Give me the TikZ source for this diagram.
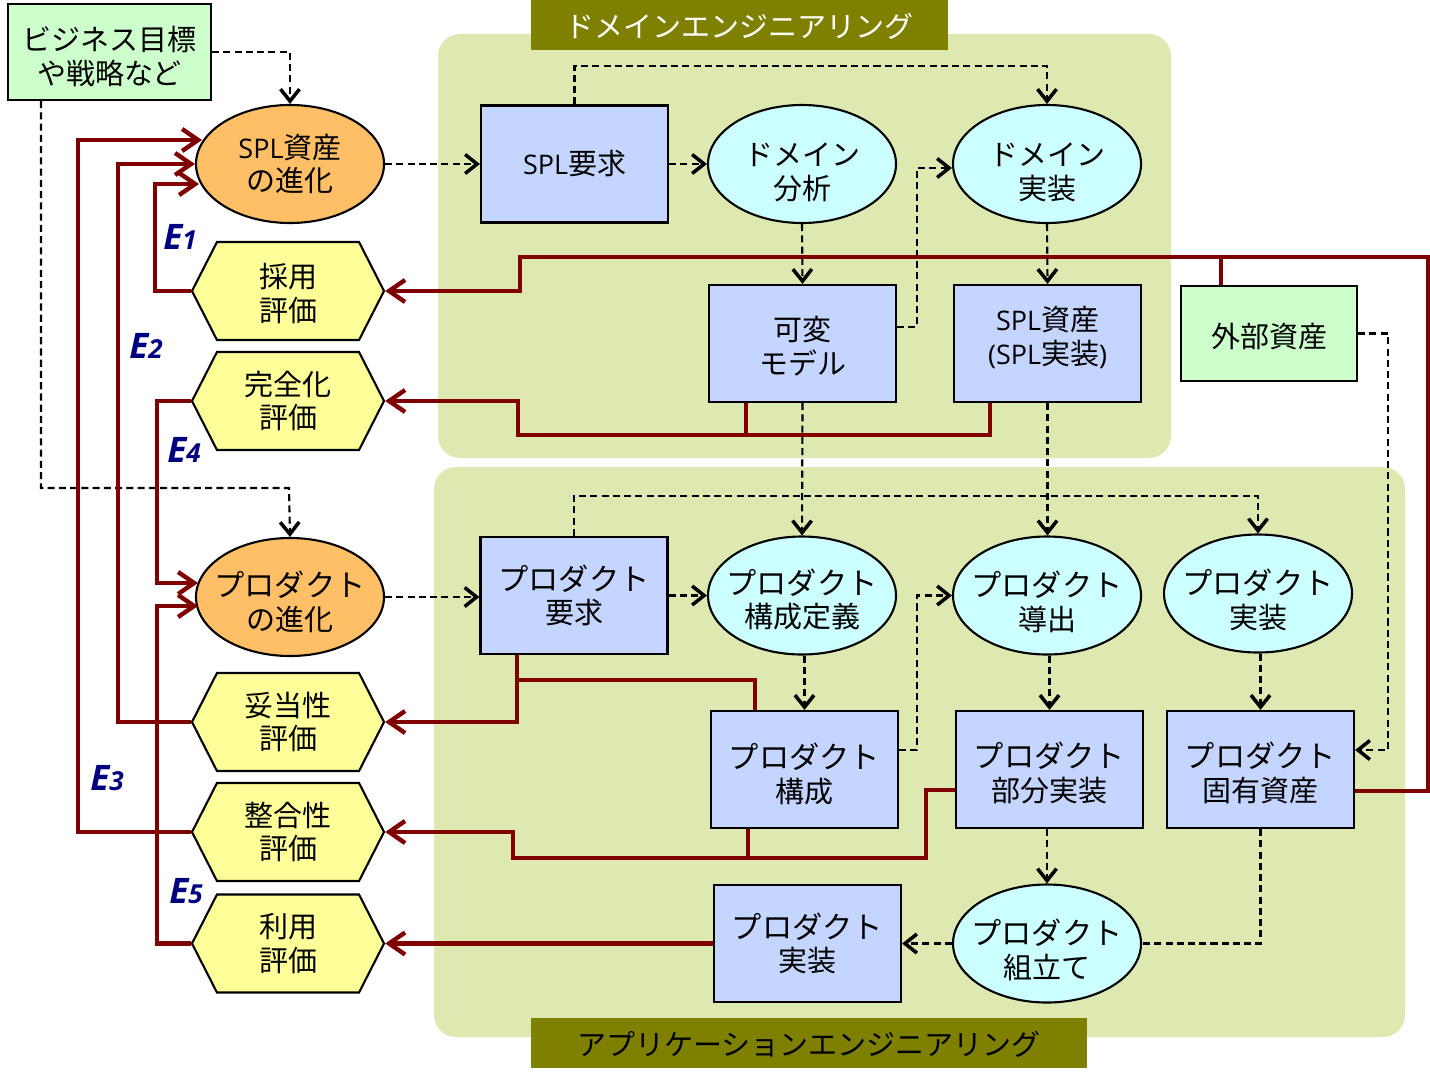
\documentclass[tikz,border=0pt]{standalone}
\usepackage{fontspec}
\setmainfont{Noto Sans CJK JP}
\newfontfamily\latinfont[Scale=0.93]{Open Sans}
\usetikzlibrary{calc,arrows.meta,shapes.geometric,shapes.symbols}
\definecolor{panelgreen}{HTML}{DEE8B1}
\definecolor{barolive}{HTML}{808000}
\definecolor{boxblue}{HTML}{C4D6FF}
\definecolor{ellcyan}{HTML}{CCFFFF}
\definecolor{evorange}{HTML}{FFBF66}
\definecolor{hexyellow}{HTML}{FFFF99}
\definecolor{notegreen}{HTML}{CCFFCC}
\definecolor{darkred}{HTML}{800000}
\definecolor{markblue}{HTML}{000080}
\newcommand{\elabel}[2]{\textbf{\textit{\latinfont\fontsize{10.75}{10}\selectfont #1{\fontsize{8}{10}\selectfont #2}}}}
\newcommand{\prodword}{{\fontsize{8.6}{9.6}\selectfont プロダクト}}
\newcommand{\nudge}[1]{\rule{0pt}{\dimexpr7.4pt+#1+#1\relax}}
\newcommand{\lift}[1]{\rule[-\dimexpr1.7pt+#1+#1\relax]{0pt}{\dimexpr1.7pt+#1+#1\relax}}

\begin{document}
\begin{tikzpicture}[font=\fontsize{8.25}{9.6}\selectfont]
\path [use as bounding box] (0,0) rectangle (14.3,-10.71);
\tikzstyle{panel} = [draw=none, fill=panelgreen, rounded corners=.22cm]
\tikzstyle{titlebar} = [fill=barolive, inner sep=0pt, minimum height=.5cm]
\tikzstyle{shape line} = [draw=black, line width=.6pt, align=center, inner sep=0pt]
\tikzstyle{activity} = [shape line, rectangle, fill=boxblue, minimum width=1.87cm, minimum height=1.17cm]
\tikzstyle{process} = [shape line, ellipse, inner xsep=-.1cm, fill=ellcyan, minimum width=1.88cm, minimum height=1.18cm]
\tikzstyle{evolution} = [process, fill=evorange]
\tikzstyle{review} = [shape line, signal, signal to=west and east, signal pointer angle=126, fill=hexyellow, minimum width=1.92cm, minimum height=.98cm]
\tikzstyle{note} = [shape line, rectangle, fill=notegreen]
\tikzstyle{flow} = [dash pattern=on 2pt off 1.2pt, line width=.6pt, -{Straight Barb[length=1.2mm,width=1.9mm,line width=1pt]}]
\tikzstyle{plainflow} = [dash pattern=on 2pt off 1.2pt, line width=.6pt]
\tikzstyle{feedback} = [darkred, line width=1.25pt, -{Straight Barb[length=1.6mm,width=2.2mm,line width=1.25pt]}]
\tikzstyle{plainfeedback} = [darkred, line width=1.25pt]
\tikzstyle{tagmark} = [inner sep=0pt, markblue]

% background
\path[panel] (4.38,-.34) rectangle (11.71,-4.58);
\path[panel] (4.34,-4.67) rectangle (14.05,-10.37);
\node[titlebar, minimum width=4.17cm, text=white] (domtitle) at (7.395,-.25) {\nudge{.2pt}ドメインエンジニアリング};
\node[titlebar, minimum width=5.56cm] (apptitle) at (8.09,-10.43) {\nudge{.2pt}アプリケーションエンジニアリング};

% left column
\node[note, minimum width=2.03cm, minimum height=.96cm] (goal) at (1.095,-.52) {\nudge{1.1pt}ビジネス目標\\や戦略など};
\node[evolution] (splev) at (2.9,-1.64) {{\latinfont SPL}資産\\の進化};
\node[evolution] (prodev) at (2.9,-5.97) {\nudge{1.4pt}\prodword\\の進化};
\node[review] (adopt) at (2.88,-2.91) {\nudge{.4pt}採用\\評価};
\node[review] (complete) at (2.88,-4.01) {完全化\\評価};
\node[review] (valid) at (2.88,-7.22) {妥当性\\評価};
\node[review] (consist) at (2.88,-8.32) {整合性\\評価};
\node[review] (usage) at (2.88,-9.435) {利用\\評価};

% domain engineering
\node[activity] (splreq) at (5.745,-1.64) {{\latinfont SPL}要求};
\node[process] (domana) at (8.02,-1.64) {\nudge{2pt}ドメイン\\分析};
\node[process] (domimp) at (10.47,-1.64) {\nudge{2pt}ドメイン\\実装};
\node[activity] (variab) at (8.025,-3.435) {\nudge{.6pt}可変\\モデル};
\node[activity] (splasset) at (10.475,-3.435) {{\latinfont SPL}資産\\{\latinfont(SPL}実装{\latinfont)}\lift{1.4pt}};
\node[note, minimum width=1.76cm, minimum height=.95cm] (extasset) at (12.69,-3.335) {\nudge{.6pt}外部資産};

% application engineering
\node[activity] (prodreq) at (5.74,-5.955) {\prodword\\要求};
\node[process] (confdef) at (8.02,-5.955) {\nudge{1.1pt}\prodword\\構成定義};
\node[process] (derive) at (10.47,-5.955) {\nudge{1.7pt}\prodword\\導出};
\node[process] (prodimp) at (12.58,-5.935) {\nudge{1.7pt}\prodword\\実装};
\node[activity] (prodconf) at (8.045,-7.695) {\nudge{1.3pt}\prodword\\構成};
\node[activity] (partimp) at (10.495,-7.695) {\nudge{.9pt}\prodword\\部分実装};
\node[activity] (prodasset) at (12.605,-7.695) {\nudge{.9pt}\prodword\\固有資産};
\node[activity] (prodbuild) at (8.075,-9.435) {\prodword\\実装};
\node[process] (assembly) at (10.47,-9.435) {\nudge{1.8pt}\prodword\\組立て};

% dashed flows
\draw[flow] (goal.east) -| (splev.north);
\draw[flow] ($(goal.south west)+(.34,0)$) |- (2.89,-4.88) -- (prodev.north);
\draw[flow] (splev.east) -- (splreq.west);
\draw[flow] (splreq.east) -- (domana.west);
\draw[flow] (splreq.north) |- (5.75,-.66) -| (domimp.north);
\draw[flow] (domana.south) -- (variab.north);
\draw[flow] ($(variab.east)+(0,.165)$) -| (9.17,-1.68) -- (domimp.west |- 9.17,-1.68);
\draw[flow] (domimp.south) -- (splasset.north);
\draw[flow] (variab.south) -- (confdef.north);
\draw[flow] (splasset.south) -- (derive.north -| splasset.south);
\draw[flow] (extasset.east) -| (13.88,-7.5) -- (prodasset.east |- 13.88,-7.5);
\draw[flow] (prodreq.north) |- (5.74,-4.96) -| (prodimp.north);
\draw[flow] (prodev.east) -- (prodreq.west |- prodev.east);
\draw[flow] (prodreq.east) -- (confdef.west);
\draw[flow] (confdef.south -| prodconf.north) -- (prodconf.north);
\draw[flow] ($(prodconf.east)+(0,.195)$) -| (9.17,-5.955) -- (derive.west);
\draw[flow] (derive.south -| partimp.north) -- (partimp.north);
\draw[flow] (prodimp.south -| prodasset.north) -- (prodasset.north);
\draw[flow] (partimp.south -| assembly.north) -- (assembly.north);
\draw[plainflow] (prodasset.south) |- (assembly.east);
\draw[flow] (assembly.west) -- (prodbuild.east);

% feedback to the evolution ellipses
\draw[feedback] (adopt.west) -| (1.55,-1.84) -- (1.99,-1.84);
\draw[feedback] (valid.west) -| (1.18,-1.64) -- (splev.west);
\draw[feedback] (consist.west) -| (.78,-1.4) -- (2.02,-1.4);
\draw[feedback] (complete.west) -| (1.57,-5.83) -- (1.98,-5.83);
\draw[feedback] (usage.west) -| (1.57,-6.06) -- (1.98,-6.06);

% feedback to the reviews
\draw[feedback] (prodasset.east |- 0,-7.91) -| (14.28,-2.57) -| (5.2,-2.91) -- (adopt.east);
\draw[plainfeedback] (extasset.north -| 12.21,0) -- (12.21,-2.57);
\draw[feedback] (splasset.south -| 9.9,0) |- (5.18,-4.35) |- (complete.east);
\draw[plainfeedback] (variab.south -| 7.46,0) -- (7.46,-4.35);
\draw[feedback] (prodreq.south -| 5.17,0) |- (valid.east);
\draw[plainfeedback] (5.17,-6.8) -| (prodconf.north -| 7.55,0);
\draw[feedback] (partimp.west |- 0,-7.9) -| (9.26,-8.58) -| (5.13,-8.32) -- (consist.east);
\draw[plainfeedback] (prodconf.south -| 7.48,0) -- (7.48,-8.58);
\draw[feedback] (prodbuild.west) -- (usage.east);

% marks
\node[tagmark] (eone) at (1.8,-2.37) {\elabel{E}{1}};
\node[tagmark] (etwo) at (1.46,-3.46) {\elabel{E}{2}};
\node[tagmark] (ethree) at (1.07,-7.78) {\elabel{E}{3}};
\node[tagmark] (efour) at (1.84,-4.5) {\elabel{E}{4}};
\node[tagmark] (efive) at (1.86,-8.91) {\elabel{E}{5}};
\end{tikzpicture}
\end{document}
